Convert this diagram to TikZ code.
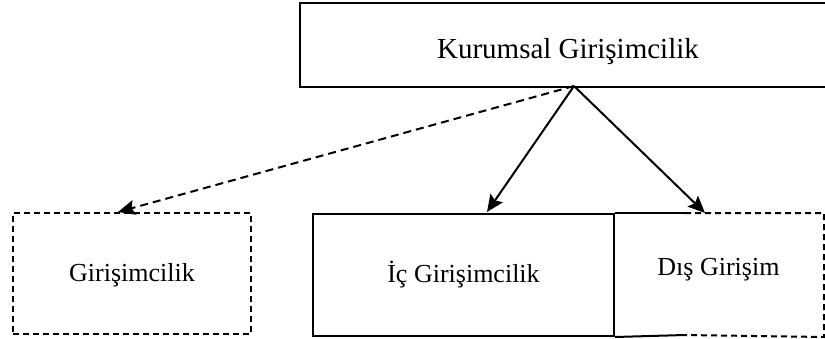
\documentclass[tikz,border=0pt]{standalone}
\usepackage{fontspec}
\setmainfont{Liberation Serif}
\usetikzlibrary{arrows.meta}
\begin{document}
\begin{tikzpicture}[x=1pt,y=-1pt,line width=2pt,
  frame/.style={rectangle,inner sep=0pt,anchor=north west},
  solidbox/.style={frame,draw},
  dashbox/.style={frame,draw,dash pattern=on 6pt off 4pt},
  bigtext/.style={font=\fontsize{29}{34}\selectfont},
  smalltext/.style={font=\fontsize{26}{30}\selectfont},
  arr/.style={-{Stealth[length=17pt,width=15pt,inset=3pt]}},
  darr/.style={arr,dash pattern=on 8pt off 5pt}]
\useasboundingbox (0,0) rectangle (825,338);
\clip (0,0) rectangle (825,338);
% top box (right edge runs off the picture)
\node[solidbox,bigtext,minimum width=536pt,minimum height=84pt,text height=30pt,text depth=4pt] (kg) at (299,2) {Kurumsal Girişimcilik};
% bottom boxes
\node[dashbox,smalltext,minimum width=238pt,minimum height=121pt,text height=19pt,text depth=4pt] (gir) at (12,212) {Girişimcilik};
\node[solidbox,smalltext,minimum width=301pt,minimum height=122pt,text height=19pt,text depth=4pt] (ic) at (312,213) {İç Girişimcilik};
\node[frame,smalltext,minimum width=209pt,minimum height=122pt,text height=12pt,text depth=12pt] (dis) at (613,213) {Dış Girişim};
% outline of the right box: solid part, then dashed part
\coordinate (dt) at (685,213);
\coordinate (db) at (685,335);
\draw (ic.north east) -- (dt);
\draw (ic.south east) -- (db);
\draw[dash pattern=on 6pt off 4pt] (dt) -- (dis.north east) -- (dis.south east) -- (db);
% connectors
\coordinate (src) at (574,86);
\coordinate (tgir) at (118,212);
\coordinate (tic) at (487,212);
\coordinate (tdis) at (705,213);
\draw[darr] (src) -- (tgir);
\draw[arr] (src) -- (tic);
\draw[arr] (src) -- (tdis);
\end{tikzpicture}
\end{document}
